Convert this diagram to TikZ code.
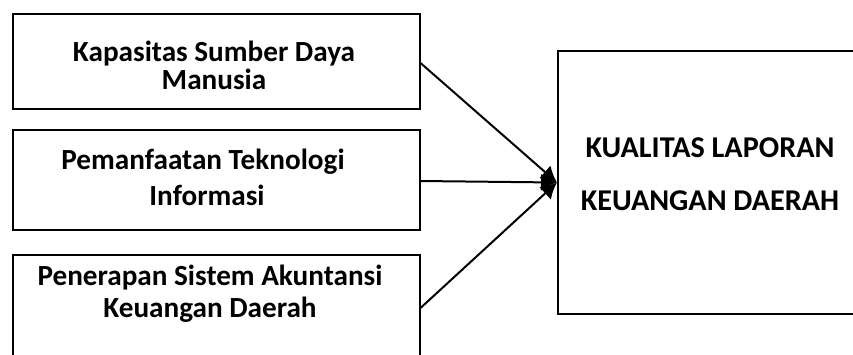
\documentclass[tikz,border=0pt]{standalone}
\usepackage{fontspec}
\setmainfont{Carlito}
\usetikzlibrary{arrows.meta}
\begin{document}
\begin{tikzpicture}[x=1pt,y=-1pt,
  box/.style={draw=black,line width=2pt,fill=none,inner sep=0pt,anchor=north west},
  lbl/.style={anchor=base,inner sep=0pt,font=\fontsize{29.2}{29.2}\selectfont\bfseries},
  rlbl/.style={anchor=base,inner sep=0pt,font=\fontsize{30.2}{30.2}\selectfont\bfseries},
  conn/.style={line width=2pt,-{Latex[length=16pt,width=17pt]}}]
\useasboundingbox (0,0) rectangle (853,354);
\clip (0,0) rectangle (853,354);
% boxes
\node[box,minimum width=407pt,minimum height=95pt] (b1) at (11.5,13) {};
\node[box,minimum width=407pt,minimum height=100pt] (b2) at (11.5,129) {};
\node[box,minimum width=407pt,minimum height=106pt] (b3) at (11.5,254) {};
\node[box,minimum width=306pt,minimum height=263pt] (rb) at (557,50) {};
% texts (base anchor = baseline of the last line)
\node[lbl,align=center] (t1) at (214,89) {Kapasitas Sumber Daya\\[-1.6pt]Manusia};
\node[lbl,align=center] (t2) at (207,205) {Pemanfaatan Teknologi\hspace*{8pt}\\[6.5pt]Informasi};
\node[lbl,align=center] (t3) at (210,317) {Penerapan Sistem Akuntansi\\[2.8pt]Keuangan Daerah};
\node[rlbl,align=center] (r) at (710,210) {KUALITAS LAPORAN\\[22.8pt]KEUANGAN DAERAH};
% connectors
\coordinate (s1) at ([yshift=-1.5pt]b1.east);
\coordinate (s2) at ([yshift=-1pt]b2.east);
\draw[conn] (s1) -- (rb.west);
\draw[conn] (s2) -- (rb.west);
\draw[conn] (b3.east) -- (rb.west);
\end{tikzpicture}
\end{document}
